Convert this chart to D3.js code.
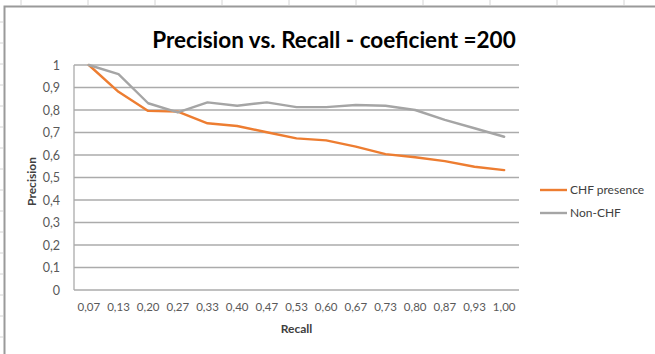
<!DOCTYPE html>
<html>
<head>
<meta charset="utf-8">
<script src="https://cdn.jsdelivr.net/npm/d3@7"></script>
<style>
  html, body { margin: 0; padding: 0; background: #fff; }
  svg { display: block; }
  text { font-family: Lato, "Open Sans", "Liberation Sans", sans-serif; }
</style>
</head>
<body>
<svg id="chart" width="655" height="354"></svg>
<script>
// Recall thresholds shown along the x axis
const recall = ["0,07","0,13","0,20","0,27","0,33","0,40","0,47","0,53","0,60","0,67","0,73","0,80","0,87","0,93","1,00"];

// Precision for each class
const chfPresence = [1.0, 0.881, 0.796, 0.793, 0.741, 0.729, 0.701, 0.674, 0.665, 0.637, 0.604, 0.590, 0.573, 0.548, 0.533];
const nonChf      = [1.0, 0.959, 0.830, 0.789, 0.834, 0.819, 0.834, 0.813, 0.813, 0.822, 0.819, 0.800, 0.756, 0.719, 0.681];

// Precision axis ticks
const yTicks = [0, 0.1, 0.2, 0.3, 0.4, 0.5, 0.6, 0.7, 0.8, 0.9, 1];
const yTickLabels = ["0","0,1","0,2","0,3","0,4","0,5","0,6","0,7","0,8","0,9","1"];

const seriesNames = ["CHF presence", "Non-CHF"];
const seriesColors = ["#ED7D31", "#A5A5A5"];

const svg = d3.select("#chart");

// Worksheet backdrop: faint column/row marks and the chart object's edge
const sheet = svg.append("g");
d3.range(21, 655, 67).forEach(x => {
  sheet.append("line").attr("x1", x).attr("x2", x).attr("y1", 0).attr("y2", 5)
    .attr("stroke", "#d4d4d4").attr("stroke-width", 1);
});
d3.range(22, 354, 21).forEach(y => {
  sheet.append("line").attr("x1", 0).attr("x2", 3).attr("y1", y).attr("y2", y)
    .attr("stroke", "#d4d4d4").attr("stroke-width", 1);
});
sheet.append("path").attr("d", "M4.5,354 V6.5 H655")
  .attr("fill", "none").attr("stroke", "#9a9a9a").attr("stroke-width", 2);

// Plot area
const plot = { left: 74, right: 519, top: 65, bottom: 290 };

const x = d3.scaleBand().domain(recall).range([plot.left, plot.right]);
const y = d3.scaleLinear().domain([0, 1]).range([plot.bottom, plot.top]);

// Horizontal gridlines
svg.append("g")
  .selectAll("line").data(yTicks).join("line")
  .attr("x1", plot.left).attr("x2", plot.right)
  .attr("y1", d => y(d)).attr("y2", d => y(d))
  .attr("stroke", "#ababab").attr("stroke-width", 1.3);

// Value axis line
svg.append("line")
  .attr("x1", plot.left).attr("x2", plot.left)
  .attr("y1", plot.top).attr("y2", plot.bottom)
  .attr("stroke", "#ababab").attr("stroke-width", 1.3);

// Y axis labels
const yAxis = d3.axisLeft(y).tickValues(yTicks)
  .tickFormat((d, i) => yTickLabels[i]).tickSize(0).tickPadding(14);
const gy = svg.append("g").attr("transform", `translate(${plot.left},0)`).call(yAxis);
gy.select(".domain").remove();
gy.selectAll("text").attr("fill", "#595959").style("font-size", "12.5px")
  .style("font-family", "Lato, 'Open Sans', sans-serif");

// X axis labels
const xAxis = d3.axisBottom(x).tickSize(0).tickPadding(13);
const gx = svg.append("g").attr("transform", `translate(0,${plot.bottom})`).call(xAxis);
gx.select(".domain").remove();
gx.selectAll("text").attr("fill", "#595959").style("font-size", "11.5px")
  .style("font-family", "Lato, 'Open Sans', sans-serif");

// Series lines
const line = d3.line()
  .x((d, i) => x(recall[i]) + x.bandwidth() / 2)
  .y(d => y(d));

[chfPresence, nonChf].forEach((vals, k) => {
  svg.append("path").datum(vals)
    .attr("d", line)
    .attr("fill", "none")
    .attr("stroke", seriesColors[k])
    .attr("stroke-width", 2.4)
    .attr("stroke-linejoin", "round")
    .attr("stroke-linecap", "round");
});

// Title
svg.append("text")
  .attr("x", 334).attr("y", 48)
  .attr("text-anchor", "middle")
  .style("font-size", "22.5px").style("font-weight", "bold")
  .attr("fill", "#000")
  .text("Precision vs. Recall - coeficient =200");

// Axis titles
svg.append("text")
  .attr("x", (plot.left + plot.right) / 2).attr("y", 333)
  .attr("text-anchor", "middle")
  .style("font-size", "12px").style("font-weight", "bold")
  .attr("fill", "#404040")
  .text("Recall");

svg.append("text")
  .attr("transform", `translate(36,${(plot.top + plot.bottom) / 2 + 4}) rotate(-90)`)
  .attr("text-anchor", "middle")
  .style("font-size", "12px").style("font-weight", "bold")
  .attr("fill", "#404040")
  .text("Precision");

// Legend
const legend = svg.append("g");
seriesNames.forEach((name, k) => {
  const ly = 190 + k * 23;
  legend.append("line")
    .attr("x1", 540).attr("x2", 567).attr("y1", ly).attr("y2", ly)
    .attr("stroke", seriesColors[k]).attr("stroke-width", 2.4);
  legend.append("text")
    .attr("x", 570).attr("y", ly + 4)
    .style("font-size", "12px")
    .attr("fill", "#404040")
    .text(name);
});
</script>
</body>
</html>
